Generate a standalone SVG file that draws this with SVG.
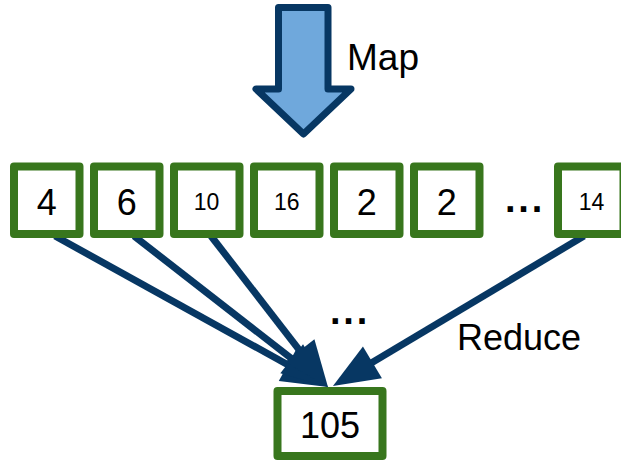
<svg xmlns="http://www.w3.org/2000/svg" width="621" height="461" viewBox="0 0 621 461">
  <defs>
    <style>
      .box { fill: #ffffff; stroke: #38761d; stroke-width: 8; stroke-linejoin: round; }
      .conn { fill: none; stroke: #073763; stroke-width: 7; }
      .t { font-family: "Liberation Sans", Arial, sans-serif; fill: #000000; text-anchor: middle; }
      .big { font-size: 36px; }
      .small { font-size: 23px; }
      .lbl { font-family: "Liberation Sans", Arial, sans-serif; fill: #000000; }
      .dots { font-family: "Liberation Sans", Arial, sans-serif; fill: #000000; font-size: 38px; font-weight: bold; letter-spacing: 2.8px; }
    </style>
    <marker id="head" markerUnits="userSpaceOnUse" markerWidth="46" markerHeight="37" refX="16" refY="18.5" orient="auto" overflow="visible">
      <path d="M0,0 L46,18.5 L0,37 Z" fill="#073763"/>
    </marker>
  </defs>
  <rect width="621" height="461" fill="#ffffff"/>

  <g id="map-arrow">
    <polygon points="278.5,7.5 328,7.5 328,89 351,89 303.5,134 256,89 278.5,89" fill="#6fa8dc" stroke="#073763" stroke-width="7" stroke-linejoin="round"/>
    <text class="lbl" x="347" y="69.5" font-size="37">Map</text>
  </g>

  <g id="connectors">
    <line class="conn" x1="55" y1="236" x2="301.75" y2="372.5" marker-end="url(#head)"/>
    <line class="conn" x1="134" y1="236" x2="304.3" y2="368.6" marker-end="url(#head)"/>
    <line class="conn" x1="211" y1="236" x2="309.6" y2="363.3" marker-end="url(#head)"/>
    <line class="conn" x1="584" y1="236" x2="358.7" y2="370.6" marker-end="url(#head)"/>
  </g>

  <g id="node-4">
    <rect class="box" x="14" y="166.5" width="65.5" height="67.5"/>
    <text class="t big" x="46.7" y="214.5">4</text>
  </g>
  <g id="node-6">
    <rect class="box" x="94" y="166.5" width="65.5" height="67.5"/>
    <text class="t big" x="126.7" y="214.5">6</text>
  </g>
  <g id="node-10">
    <rect class="box" x="174" y="166.5" width="65.5" height="67.5"/>
    <text class="t small" x="206.5" y="210">10</text>
  </g>
  <g id="node-16">
    <rect class="box" x="254" y="166.5" width="65.5" height="67.5"/>
    <text class="t small" x="286.7" y="210">16</text>
  </g>
  <g id="node-2a">
    <rect class="box" x="334" y="166.5" width="65.5" height="67.5"/>
    <text class="t big" x="366.7" y="214.5">2</text>
  </g>
  <g id="node-2b">
    <rect class="box" x="414" y="166.5" width="65.5" height="67.5"/>
    <text class="t big" x="446.7" y="214.5">2</text>
  </g>
  <g id="ellipsis-top">
    <text class="dots" x="505" y="212">...</text>
  </g>
  <g id="node-14">
    <rect class="box" x="558" y="166.5" width="65.5" height="67.5"/>
    <text class="t small" x="591.5" y="210">14</text>
  </g>

  <g id="ellipsis-mid">
    <text class="dots" x="330" y="323.5">...</text>
  </g>
  <g id="reduce-label">
    <text class="lbl" x="457" y="350" font-size="36">Reduce</text>
  </g>

  <g id="node-105">
    <rect class="box" x="277.5" y="391" width="105" height="65"/>
    <text class="t" x="330" y="437.5" font-size="36">105</text>
  </g>
</svg>
